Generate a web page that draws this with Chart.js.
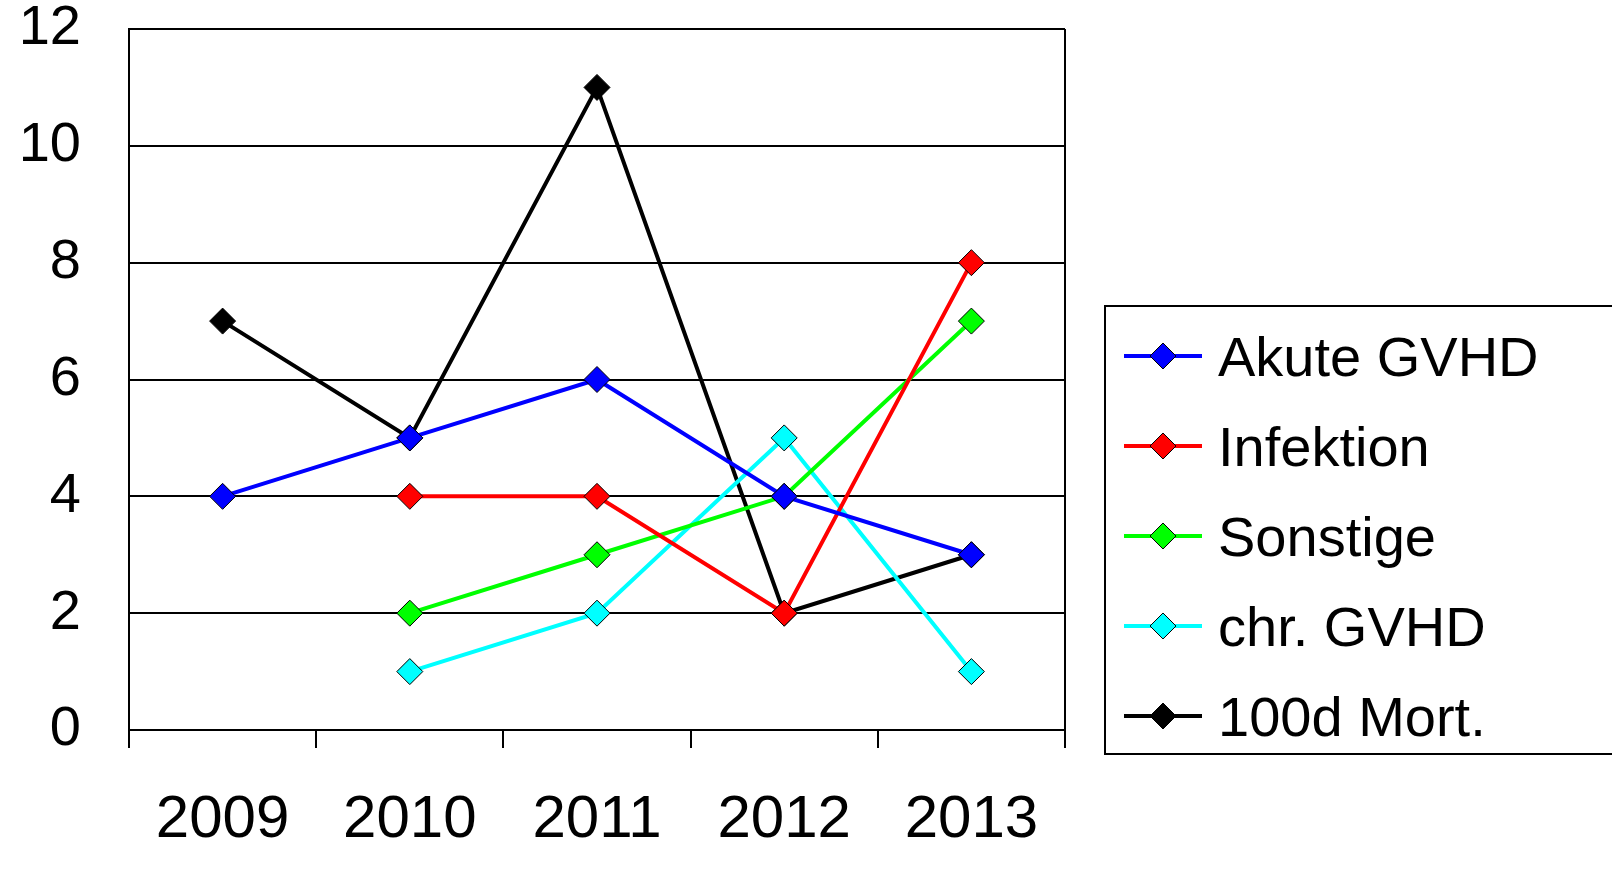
<!DOCTYPE html>
<html><head><meta charset="utf-8">
<script src="https://cdn.jsdelivr.net/npm/chart.js@4/dist/chart.umd.min.js"></script>
<style>
body{margin:0;background:#fff;font-family:"Liberation Sans",Arial,sans-serif;overflow:hidden;}
#wrap{position:absolute;left:0;top:0;width:1090px;height:880px;}
#legend{position:absolute;left:1104px;top:305px;width:520px;height:450px;border:2px solid #000;box-sizing:border-box;padding-top:4px;}
.item{height:90px;display:flex;align-items:center;font-size:56px;color:#000;white-space:nowrap;}
.item canvas{margin-left:18px;margin-right:16px;}
</style></head><body>
<div id="wrap"><canvas id="c" width="1090" height="880"></canvas></div>
<div id="legend"></div>
<script>
const years = ["2009", "2010", "2011", "2012", "2013"];
const akute = [4, 5, 6, 4, 3];
const infektion = [null, 4, 4, 2, 8];
const sonstige = [null, 2, 3, 4, 7];
const chrGvhd = [null, 1, 2, 5, 1];
const mort = [7, 5, 11, 2, 3];
const names = ["Akute GVHD", "Infektion", "Sonstige", "chr. GVHD", "100d Mort."];
const colors = ["#0000ff", "#ff0000", "#00ff00", "#00ffff", "#000000"];
const series = [akute, infektion, sonstige, chrGvhd, mort];

const frame = {
  id: "frame",
  afterDraw(chart) {
    const a = chart.chartArea, ctx = chart.ctx;
    ctx.save();
    ctx.strokeStyle = "#000"; ctx.lineWidth = 2;
    ctx.beginPath();
    ctx.moveTo(a.right, a.top); ctx.lineTo(a.right, a.bottom + 18);
    ctx.stroke();
    ctx.restore();
  }
};

new Chart(document.getElementById("c"), {
  type: "line",
  data: {
    labels: years,
    datasets: series.map((d, i) => ({
      label: names[i], data: d, borderColor: colors[i], backgroundColor: colors[i],
      borderWidth: 4, pointStyle: "rectRot", pointRadius: 13, pointBorderColor: "#000",
      pointBorderWidth: 1, tension: 0
    }))
  },
  options: {
    responsive: false, animation: false, devicePixelRatio: 1,
    layout: { padding: { top: 29, right: 25, left: 0, bottom: 0 }, autoPadding: false },
    plugins: { legend: { display: false }, tooltip: { enabled: false } },
    scales: {
      x: {
        offset: true,
        grid: { offset: true, drawOnChartArea: false, color: "#000", lineWidth: 2, tickLength: 18 },
        border: { color: "#000", width: 2 },
        ticks: { color: "#000", font: { size: 60, family: "Liberation Sans" }, padding: 36, maxRotation: 0 },
        afterFit(s) { s.height = 150; s.paddingLeft = 0; s.paddingRight = 0; }
      },
      y: {
        min: 0, max: 12,
        ticks: { stepSize: 2, color: "#000", font: { size: 56, family: "Liberation Sans" }, padding: 48 },
        grid: { color: "#000", lineWidth: 2, tickLength: 0 },
        border: { color: "#000", width: 2 },
        afterFit(s) { s.width = 129; s.paddingTop = 0; s.paddingBottom = 0; }
      }
    }
  },
  plugins: [frame]
});

const lg = document.getElementById("legend");
names.forEach((n, i) => {
  const it = document.createElement("div"); it.className = "item";
  const cv = document.createElement("canvas"); cv.width = 78; cv.height = 34;
  const g = cv.getContext("2d");
  g.strokeStyle = colors[i]; g.lineWidth = 4;
  g.beginPath(); g.moveTo(0, 17); g.lineTo(78, 17); g.stroke();
  g.fillStyle = colors[i]; g.strokeStyle = "#000"; g.lineWidth = 1;
  g.beginPath(); g.moveTo(39, 4); g.lineTo(52, 17); g.lineTo(39, 30); g.lineTo(26, 17); g.closePath(); g.fill(); g.stroke();
  it.appendChild(cv);
  const t = document.createElement("span"); t.textContent = n; it.appendChild(t);
  lg.appendChild(it);
});
</script>
</body></html>
